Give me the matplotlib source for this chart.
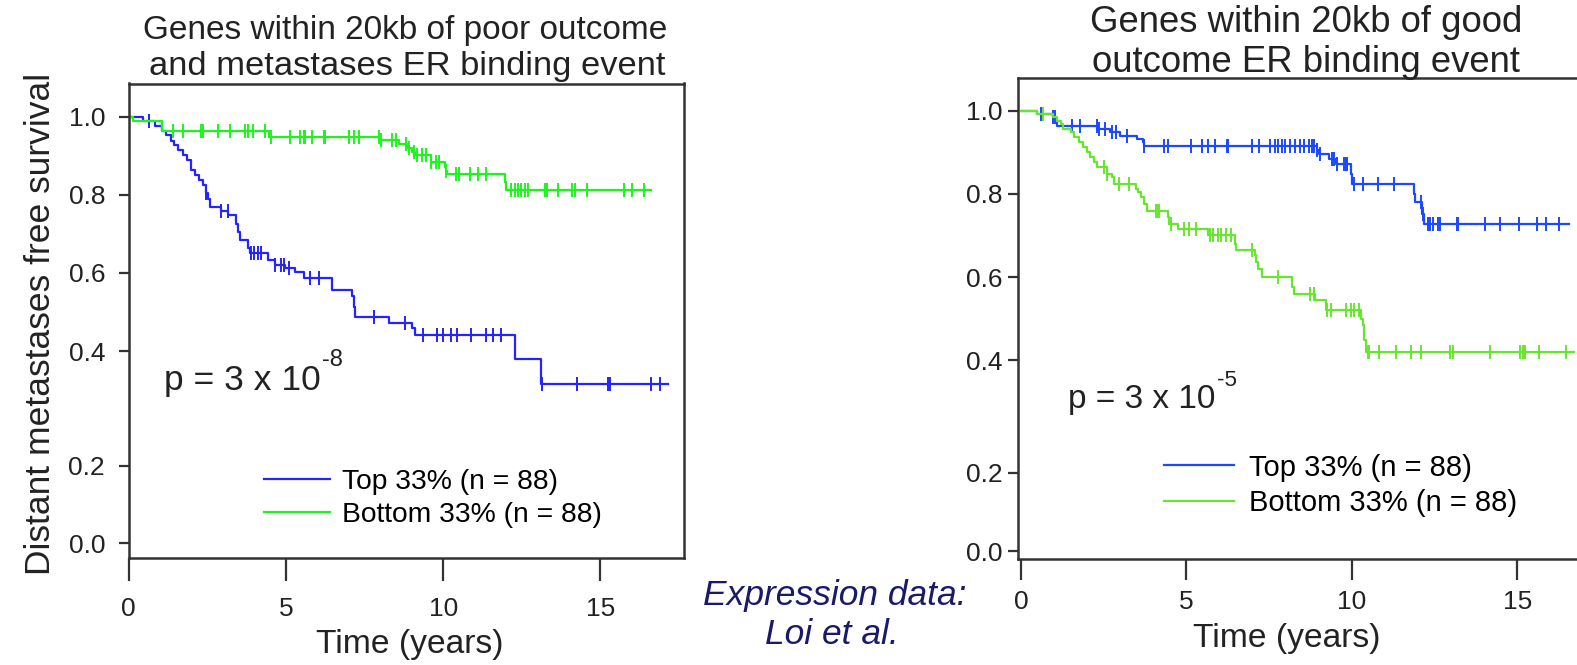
import numpy as np
import matplotlib
matplotlib.use("Agg")
import matplotlib.pyplot as plt

plt.rcParams["font.family"] = ["Liberation Sans", "DejaVu Sans"]

# left panel: poor outcome / metastases binding genes
lt_times = [0.45, 0.85, 1.07, 1.2, 1.34, 1.45, 1.56, 1.72, 1.85, 1.98,
            2.1, 2.25, 2.35, 2.45, 2.52, 2.57, 2.94, 3.16, 3.42, 3.47,
            3.53, 3.8, 3.85, 4.44, 4.65, 4.96, 5.28, 5.56, 6.46, 7.1,
            7.15, 7.2, 8.29, 9.02, 9.12, 12.28, 13.1]
lt_surv = [0.988, 0.975, 0.963, 0.952, 0.939, 0.927, 0.914, 0.902, 0.889, 0.863,
           0.850, 0.838, 0.825, 0.804, 0.790, 0.770, 0.759, 0.748, 0.725, 0.704,
           0.684, 0.664, 0.651, 0.633, 0.620, 0.612, 0.602, 0.586, 0.556, 0.540,
           0.514, 0.488, 0.471, 0.458, 0.441, 0.387, 0.343]
lt_cens = [0.65, 2.46, 2.95, 3.15, 3.9, 4.0, 4.1, 4.2, 4.65, 4.85, 4.95, 5.1,
           5.75, 6.05, 7.8, 8.8, 9.35, 9.8, 10.0, 10.25, 10.45, 10.9, 11.35,
           11.6, 11.85, 13.15, 14.25, 15.25, 15.3, 16.6, 16.9]
lt_end = 17.15

lb_times = [0.15, 1.05, 4.45, 7.98, 8.6, 8.85, 9.0, 9.12, 9.6, 10.05, 10.09,
            10.12, 11.96, 12.0]
lb_surv = [0.988, 0.963, 0.948, 0.940, 0.931, 0.919, 0.909, 0.902, 0.885,
           0.870, 0.862, 0.853, 0.833, 0.813]
lb_cens = [1.4, 1.72, 2.3, 2.35, 2.84, 3.21, 3.69, 3.8, 3.96, 4.33, 4.54, 5.13,
           5.45, 5.56, 5.61, 5.82, 6.2, 6.25, 7.0, 7.16, 7.32, 7.96, 8.01, 8.38,
           8.49, 8.81, 8.92, 9.07, 9.18, 9.34, 9.45, 9.61, 9.77, 9.88, 10.09,
           10.41, 10.52, 10.84, 11.1, 11.37, 12.17, 12.28, 12.38, 12.49, 12.6,
           12.7, 13.24, 13.29, 13.66, 14.09, 14.2, 14.57, 15.74, 16.0, 16.38]
lb_end = 16.6

# right panel: good outcome binding genes
rt_times = [0.47, 0.98, 1.05, 1.08, 2.3, 2.7, 3.0, 3.5, 3.68, 3.72, 8.95, 9.0,
            9.31, 9.51, 9.98, 10.02, 11.88, 11.92, 12.12, 12.18]
rt_surv = [0.992, 0.984, 0.976, 0.964, 0.956, 0.948, 0.940, 0.932, 0.924,
           0.916, 0.906, 0.896, 0.884, 0.872, 0.848, 0.824, 0.80, 0.78, 0.752,
           0.728]
rt_cens = [0.62, 0.98, 1.03, 1.53, 1.78, 2.29, 2.35, 2.55, 2.75, 2.86, 3.21,
           3.72, 4.33, 4.43, 5.15, 5.46, 5.66, 5.86, 6.22, 6.27, 6.98, 7.19,
           7.53, 7.68, 7.78, 7.88, 7.99, 8.14, 8.29, 8.44, 8.55, 8.7, 8.8, 8.85,
           8.95, 9.05, 9.41, 9.46, 9.56, 9.77, 9.82, 9.87, 10.07, 10.33, 10.78,
           11.29, 12.1, 12.15, 12.31, 12.36, 12.46, 12.61, 12.66, 13.17, 13.22,
           14.03, 14.49, 15.05, 15.61, 15.86, 16.27]
rt_end = 16.58

rb_times = [0.47, 0.98, 1.1, 1.2, 1.28, 1.5, 1.59, 1.75, 1.89, 1.99,
            2.1, 2.2, 2.3, 2.6, 2.75, 2.8, 3.47, 3.55, 3.62, 3.72,
            3.82, 4.43, 4.48, 4.74, 5.65, 6.46, 6.5, 7.07, 7.12, 7.17,
            7.28, 8.19, 8.25, 8.9, 9.21, 10.27, 10.33, 10.38, 10.43]
rb_surv = [0.992, 0.984, 0.976, 0.968, 0.956, 0.948, 0.936, 0.924, 0.912, 0.9,
           0.888, 0.876, 0.864, 0.848, 0.84, 0.824, 0.812, 0.804, 0.792, 0.776,
           0.76, 0.744, 0.728, 0.716, 0.70, 0.68, 0.664, 0.652, 0.636, 0.62,
           0.60, 0.576, 0.56, 0.544, 0.52, 0.50, 0.484, 0.448, 0.42]
rb_cens = [0.67, 2.5, 2.6, 2.96, 3.26, 4.08, 4.13, 4.18, 4.53, 4.94, 5.09, 5.3,
           5.7, 5.8, 5.95, 6.06, 6.21, 6.36, 6.97, 7.78, 8.75, 8.85, 9.26, 9.36,
           9.82, 9.97, 10.07, 10.22, 10.48, 10.53, 10.83, 11.34, 11.8, 12.1,
           12.97, 13.07, 14.19, 15.1, 15.17, 15.25, 15.66, 16.47]
rb_end = 16.73

labels = ["Top 33% (n = 88)", "Bottom 33% (n = 88)"]
x_ticks = [0, 5, 10, 15]
y_ticks = [0.0, 0.2, 0.4, 0.6, 0.8, 1.0]

W, H = 1577, 665

# the source figure has its 0.2-0.4 band stretched; piecewise axis rows (px)
KNOT_V = [-1.0, 0.0, 0.2, 0.4, 1.0, 2.0]


def band_scale(ax, rows):
    # rows: pixel rows of 0.0, 0.2, 0.4, 1.0
    r0, r2, r4, r10 = rows
    lo = (r0 - r2) / 0.2
    hi = (r4 - r10) / 0.6
    u = -np.array([r0 + lo, r0, r2, r4, r10, r10 - hi])
    ax.set_yscale("function", functions=(lambda v: np.interp(v, KNOT_V, u),
                                         lambda w: np.interp(w, u, KNOT_V)))


def km(ax, times, surv, cens, end, color, label):
    t = np.r_[0.0, times, end]
    s = np.r_[1.0, surv, surv[-1]]
    ax.step(t, s, where="post", color=color, lw=1.6, label=label)
    idx = np.searchsorted(t, cens, side="right") - 1
    ax.plot(cens, s[idx], ls="none", marker="|", ms=10, mew=1.4, color=color)


def style(ax, xlim, ylim, xlen, xpad, ypad):
    ax.set_xlim(*xlim)
    ax.set_ylim(*ylim)
    ax.set_xticks(x_ticks)
    ax.set_yticks(y_ticks)
    ax.set_yticklabels([f"{v:.1f}" for v in y_ticks])
    ax.yaxis.set_minor_locator(plt.NullLocator())
    for sp in ax.spines.values():
        sp.set_linewidth(1.8)
        sp.set_color("#333333")
    ax.tick_params(axis="both", labelsize=19, width=1.6, color="#333333",
                   labelcolor="#222222")
    ax.tick_params(axis="y", length=7, pad=ypad)
    ax.tick_params(axis="x", length=xlen, pad=xpad)


def pvalue(ax, x, y, exp, size):
    t = ax.text(x, y, "p = 3 x 10", fontsize=size, va="center", color="#222222")
    ax.annotate(exp, xy=(1, 0.78), xycoords=t, xytext=(1, 0),
                textcoords="offset points", fontsize=size * 0.67,
                va="bottom", color="#222222")


def legend(ax, x, y, size, hlen, hpad, spacing):
    ax.legend(loc="upper left", bbox_to_anchor=(x, y),
              bbox_transform=ax.transData, frameon=False, fontsize=size,
              handlelength=hlen, handletextpad=hpad, labelspacing=spacing,
              borderpad=0, borderaxespad=0)


fig = plt.figure(figsize=(W / 100, H / 100), dpi=100)

# left axes: x 128.7..684 px, y 83.5..558 px
ax1 = fig.add_axes([128.7 / W, 1 - 558 / H, 555.3 / W, (558 - 83.5) / H])
band_scale(ax1, (543.1, 465.6, 351.0, 116.7))
km(ax1, lt_times, lt_surv, lt_cens, lt_end, "#2424ff", labels[0])
km(ax1, lb_times, lb_surv, lb_cens, lb_end, "#1cf51c", labels[1])
style(ax1, (0, 17.66), (-0.038, 1.085), xlen=16.5, xpad=11.5, ypad=10)
pvalue(ax1, 1.12, 0.349, "-8", 25.5)
legend(ax1, 4.29, 0.191, 20.3, 2.35, 0.43, 0.25)

# right axes: x 1018..1580 px, y 78.4..559 px
ax2 = fig.add_axes([1018 / W, 1 - 559 / H, 562 / W, (559 - 78.4) / H])
band_scale(ax2, (551.3, 472.8, 360.2, 110.7))
km(ax2, rt_times, rt_surv, rt_cens, rt_end, "#1c48ff", labels[0])
km(ax2, rb_times, rb_surv, rb_cens, rb_end, "#66e62e", labels[1])
style(ax2, (-0.09, 16.9), (-0.02, 1.078), xlen=15, xpad=7, ypad=4)
pvalue(ax2, 1.42, 0.330, "-5", 24)
legend(ax2, 4.33, 0.234, 21.0, 2.4, 0.5, 0.25)

tc = "#222222"
fig.text(405 / W, 1 - 30 / H, "Genes within 20kb of poor outcome", ha="center",
         va="center", fontsize=24, color=tc)
fig.text(407 / W, 1 - 66 / H, "and metastases ER binding event", ha="center",
         va="center", fontsize=24.8, color=tc)
fig.text(1306 / W, 1 - 22 / H, "Genes within 20kb of good", ha="center",
         va="center", fontsize=26.3, color=tc)
fig.text(1306 / W, 1 - 62 / H, "outcome ER binding event", ha="center",
         va="center", fontsize=26.3, color=tc)

fig.text(410 / W, 1 - 644 / H, "Time (years)", ha="center", va="center",
         fontsize=24.2, color=tc)
fig.text(1287 / W, 1 - 639 / H, "Time (years)", ha="center", va="center",
         fontsize=24.2, color=tc)
fig.text(41 / W, 1 - 324 / H, "Distant metastases free survival", rotation=90,
         ha="center", va="center", fontsize=25.5, color=tc)

nav = "#1a1a6a"
fig.text(835 / W, 1 - 595 / H, "Expression data:", ha="center", va="center",
         fontsize=25.5, style="italic", color=nav)
fig.text(832 / W, 1 - 634 / H, "Loi et al.", ha="center", va="center",
         fontsize=25.5, style="italic", color=nav)

fig.savefig("out.png", dpi=100)
